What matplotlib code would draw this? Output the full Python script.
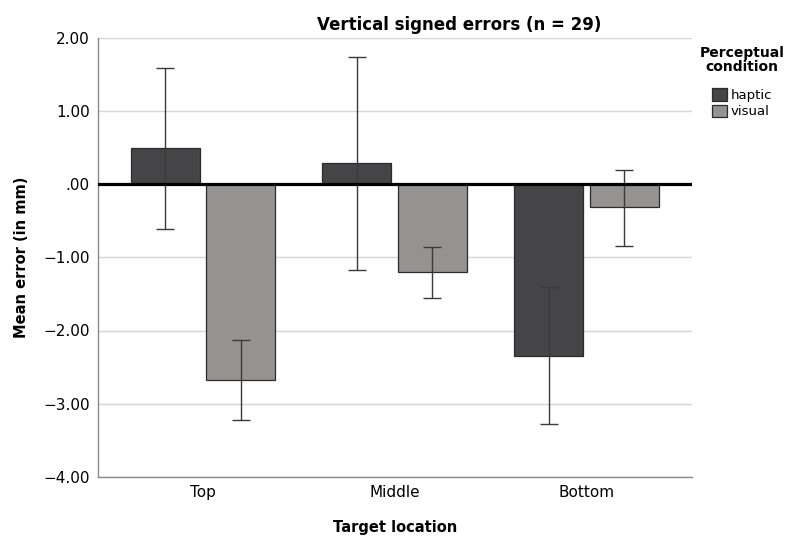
import numpy as np
import matplotlib
matplotlib.use('Agg')
import matplotlib.pyplot as plt
from matplotlib.patches import Patch

# values (mm)
locations = ['Top', 'Middle', 'Bottom']
conditions = ['haptic', 'visual']
haptic_mean = [0.49, 0.28, -2.35]
haptic_lo = [-0.62, -1.17, -3.28]
haptic_hi = [1.58, 1.74, -1.41]
visual_mean = [-2.67, -1.20, -0.32]
visual_lo = [-3.22, -1.55, -0.84]
visual_hi = [-2.13, -0.86, 0.19]
y_ticks = [2, 1, 0, -1, -2, -3, -4]
y_tick_labels = ['2.00', '1.00', '.00', '\u22121.00', '\u22122.00', '\u22123.00', '\u22124.00']

plt.rcParams['font.family'] = ['DejaVu Sans']

fig = plt.figure(figsize=(7.89, 5.38), dpi=100)
ax = fig.add_axes([98/789, 1 - 477/538, 594/789, 439.5/538])

x = np.arange(len(locations))
width = 0.36
offset = 0.197
colors = ['#454548', '#959391']

for means, lo, hi, off, col in [(haptic_mean, haptic_lo, haptic_hi, -offset, colors[0]),
                                 (visual_mean, visual_lo, visual_hi, offset, colors[1])]:
    means = np.array(means)
    ax.bar(x + off, means, width, color=col, edgecolor='#2b2b2b', linewidth=0.9, zorder=3)
    yerr = np.array([means - np.array(lo), np.array(hi) - means])
    ax.errorbar(x + off, means, yerr=yerr, fmt='none', ecolor='#3a3a3a', elinewidth=1.0,
                capsize=6.8, capthick=1.0, zorder=4)

ax.axhline(0, color='black', linewidth=2.3, zorder=5)

ax.set_xlim(-0.547, 2.55)
ax.set_ylim(-4, 2)
ax.set_yticks(y_ticks)
ax.set_yticklabels(y_tick_labels, fontsize=11)
ax.set_xticks(x)
ax.set_xticklabels(locations, fontsize=11)
ax.tick_params(length=0, pad=6)
ax.grid(axis='y', color='#d6d6d6', linewidth=1, zorder=0)
ax.set_axisbelow(True)

for s in ['top', 'right']:
    ax.spines[s].set_visible(False)
for s in ['left', 'bottom']:
    ax.spines[s].set_color('#8a8a8a')
    ax.spines[s].set_linewidth(1)

ax.set_xlabel('Target location', fontsize=10.5, fontweight='bold', labelpad=14)
ax.set_ylabel('Mean error (in mm)', fontsize=10.5, fontweight='bold', labelpad=10)

fig.text(459.5/789, 1 - 25/538, 'Vertical signed errors (n = 29)', ha='center', va='center',
         fontsize=12, fontweight='bold')

handles = [Patch(facecolor=colors[i], edgecolor='#2b2b2b', linewidth=0.9) for i in range(2)]
leg = fig.legend(handles, conditions, title='Perceptual\ncondition', loc='upper center',
                 bbox_to_anchor=(742/789, 1 - 45/538), frameon=False, fontsize=9.5,
                 handlelength=1.1, handleheight=1.1, handletextpad=0.3, labelspacing=0.2,
                 borderpad=0.1, borderaxespad=0,
                 title_fontproperties={'weight': 'bold', 'size': 10})
leg.get_title().set_linespacing(1.0)
leg.get_title().set_multialignment('center')
leg._legend_box.align = 'center'
leg._legend_box.sep = 10

fig.savefig('out.png', dpi=100)
